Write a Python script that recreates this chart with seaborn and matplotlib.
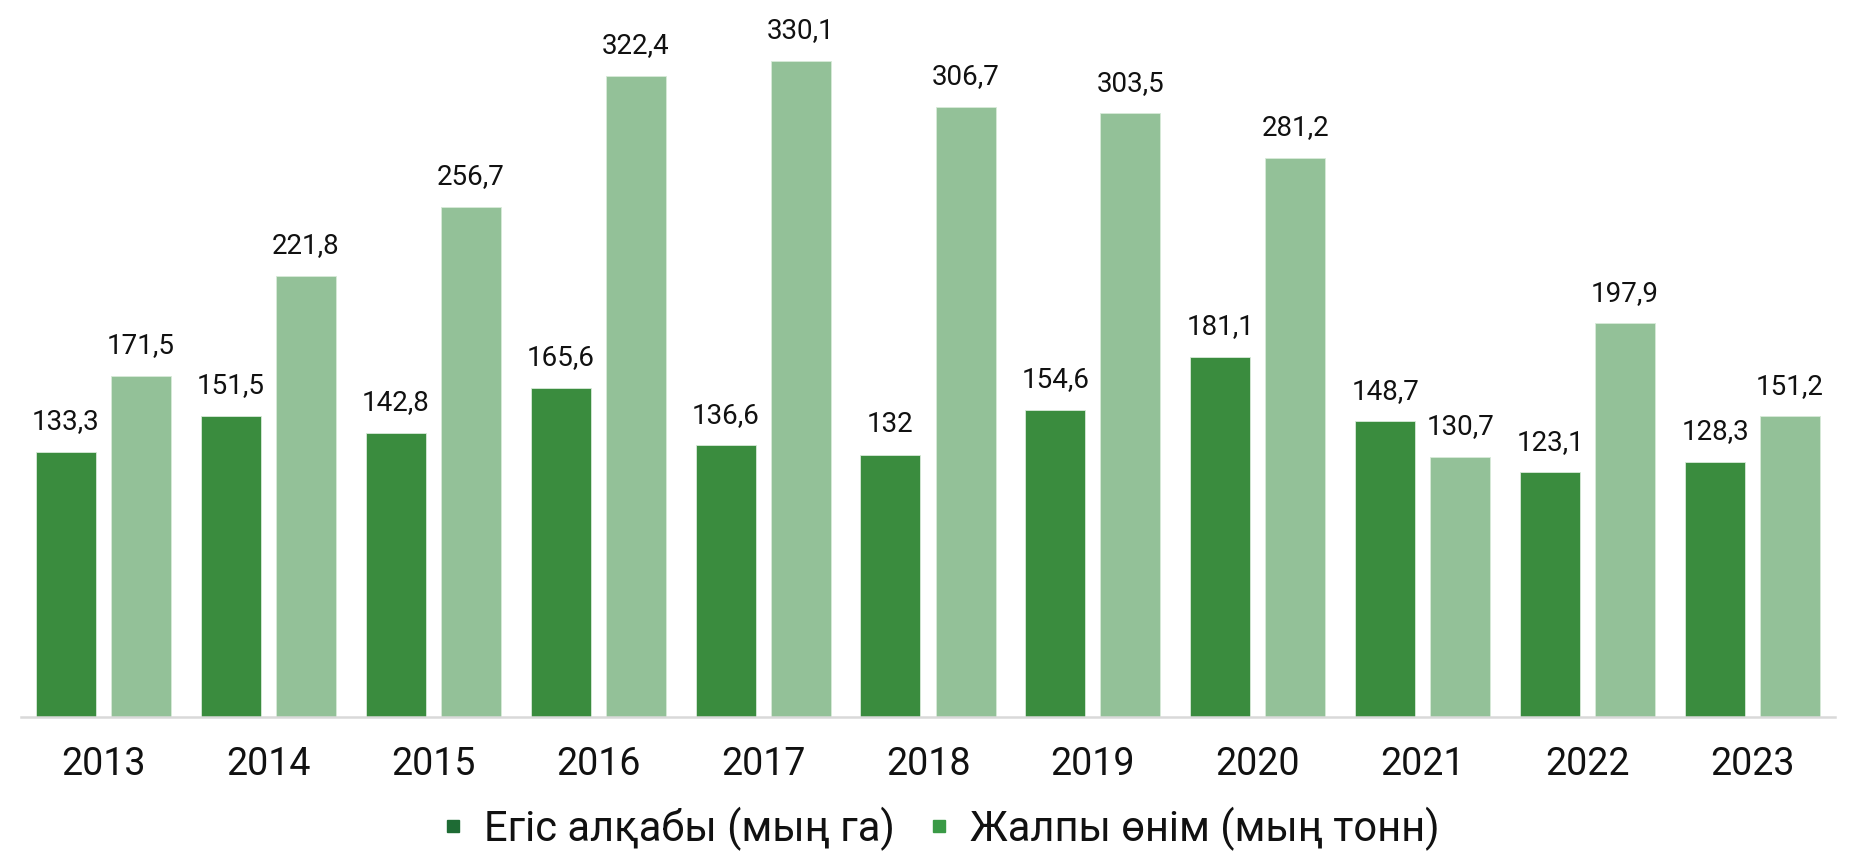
import pandas as pd
import numpy as np
import matplotlib
matplotlib.use('Agg')
import matplotlib.pyplot as plt
from matplotlib.lines import Line2D
import seaborn as sns

sns.set_style('white')
plt.rcParams['font.family'] = ['Roboto', 'DejaVu Sans']

years = ['2013', '2014', '2015', '2016', '2017', '2018', '2019', '2020', '2021', '2022', '2023']
area = [133.3, 151.5, 142.8, 165.6, 136.6, 132.0, 154.6, 181.1, 148.7, 123.1, 128.3]
harvest = [171.5, 221.8, 256.7, 322.4, 330.1, 306.7, 303.5, 281.2, 130.7, 197.9, 151.2]
series_names = ['Егіс алқабы (мың га)', 'Жалпы өнім (мың тонн)']
bar_colors = ['#3a8c3e', '#93c198']
legend_colors = ['#1e6b34', '#3a9a46']

def fmt(v):
    s = ('%.1f' % v).rstrip('0').rstrip('.')
    return s.replace('.', ',')

df = pd.DataFrame({
    'year': years * 2,
    'value': area + harvest,
    'series': [series_names[0]] * len(years) + [series_names[1]] * len(years),
})

fig = plt.figure(figsize=(18.67, 8.58), dpi=100)
ax = fig.add_axes([21 / 1867, 141 / 858, 1814 / 1867, 696 / 858])

sns.barplot(data=df, x='year', y='value', hue='series', palette=bar_colors,
            width=0.91, gap=0.2, ax=ax, legend=False, saturation=1,
            edgecolor='#d8ead9', linewidth=0.6)

for cont, vals in zip(ax.containers, [area, harvest]):
    ax.bar_label(cont, labels=[fmt(v) for v in vals], padding=12, fontsize=20, color='#111111')

ax.set_xlim(-0.5, len(years) - 0.5)
ax.set_ylim(0, 350)
ax.set_xlabel('')
ax.set_ylabel('')
ax.set_yticks([])
ax.tick_params(axis='x', length=0, pad=21, labelsize=27, labelcolor='#111111')
for side in ['top', 'right', 'left']:
    ax.spines[side].set_visible(False)
ax.spines['bottom'].set_color('#d9d9d9')
ax.spines['bottom'].set_linewidth(1.8)

handles = [Line2D([], [], marker='s', linestyle='', markersize=8, color=c) for c in legend_colors]
fig.legend(handles, series_names, loc='center', bbox_to_anchor=(0.5, 0.034), ncol=2,
           frameon=False, fontsize=30, handletextpad=0.15, columnspacing=0.45,
           handlelength=1.2, labelcolor='#111111')

fig.savefig('out.png', dpi=100)
